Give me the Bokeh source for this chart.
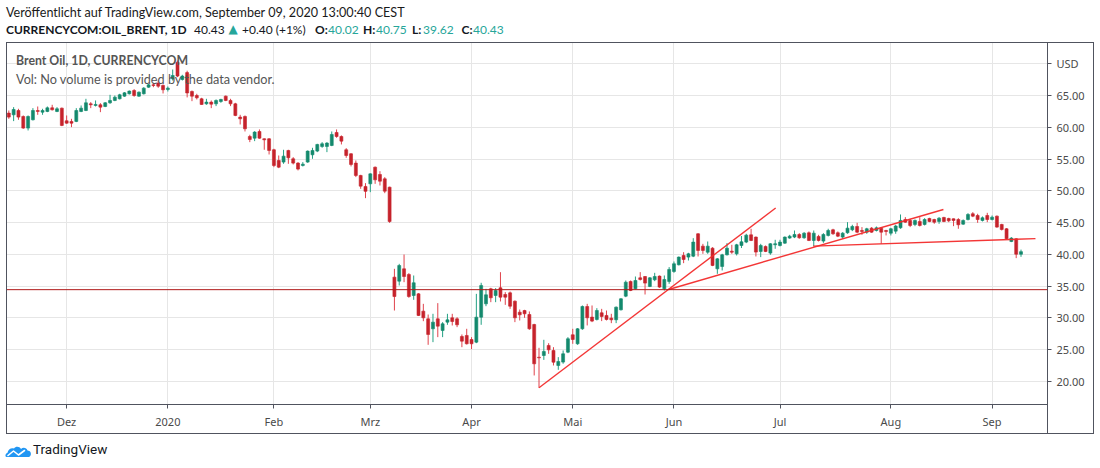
from bokeh.plotting import figure
from bokeh.models import (Range1d, FixedTicker, Label, Span, ColumnDataSource,
                          InlineStyleSheet, PrintfTickFormatter, Div)
from bokeh.layouts import column
from bokeh.embed import file_html
from bokeh.resources import INLINE

# ---------------- data ----------------
opens = [62.23, 61.96, 62.64, 61.70, 59.87, 61.18, 62.64, 62.38, 62.49, 63.06,
         62.49, 63.01, 61.02, 60.92, 60.92, 62.49, 62.64, 63.69, 63.43, 63.54,
         63.27, 63.85, 64.22, 64.48, 64.90, 65.27, 65.79, 64.90, 65.27, 66.31,
         66.68, 66.95, 66.58, 65.95, 67.63, 70.25, 67.52, 68.60, 65.63, 65.00,
         64.48, 63.69, 63.96, 63.69, 64.06, 64.90, 64.22, 63.69, 61.60, 61.70,
         58.55, 58.29, 59.34, 58.19, 58.19, 56.46, 54.78, 54.52, 56.35, 55.04,
         54.36, 53.99, 54.52, 55.67, 56.25, 56.98, 56.98, 57.14, 59.18, 58.55,
         56.46, 55.83, 54.36, 52.42, 50.69, 51.10, 53.72, 52.57, 51.89, 50.58,
         36.42, 35.79, 37.73, 36.84, 33.53, 33.79, 31.07, 29.86, 28.29, 29.86,
         28.03, 29.34, 30.02, 29.86, 27.08, 27.24, 26.61, 26.19, 30.12, 32.22,
         34.58, 33.53, 34.74, 33.69, 33.95, 32.64, 30.91, 31.17, 30.54, 28.97,
         23.82, 24.09, 25.67, 24.88, 22.52, 23.05, 24.62, 27.35, 25.93, 28.29,
         31.80, 30.13, 29.76, 30.81, 30.39, 29.97, 29.71, 31.28, 33.43, 35.74,
         34.58, 36.31, 36.52, 34.95, 36.00, 36.58, 34.58, 35.74, 37.31, 38.36,
         39.83, 39.57, 39.72, 43.24, 41.30, 40.35, 40.98, 37.73, 38.10, 39.93,
         40.51, 40.09, 41.40, 41.93, 43.08, 42.72, 40.46, 41.25, 40.20, 41.51,
         41.40, 41.77, 42.56, 42.72, 43.13, 42.61, 43.40, 42.19, 42.82, 42.09,
         42.98, 43.87, 43.40, 42.72, 43.40, 43.87, 44.39, 43.76, 43.50, 44.13,
         43.76, 44.13, 43.76, 43.34, 43.66, 44.18, 45.49, 45.34, 44.71, 45.18,
         44.71, 45.65, 45.49, 45.18, 45.81, 45.65, 45.60, 45.49, 44.76, 45.49,
         46.39, 46.12, 45.34, 46.12, 45.49, 46.02, 44.71, 44.03, 42.03, 42.45,
         40.02]
highs = [62.64, 63.17, 62.91, 61.86, 61.86, 63.01, 63.27, 62.91, 63.27, 63.54,
         63.17, 63.10, 61.86, 61.33, 63.01, 63.43, 64.48, 63.96, 64.22, 63.80,
         63.96, 65.11, 65.00, 65.27, 65.53, 65.79, 66.00, 65.63, 66.31, 66.84,
         67.00, 67.36, 66.74, 66.42, 69.09, 70.51, 68.26, 68.90, 65.79, 65.27,
         64.64, 64.48, 64.22, 64.38, 64.48, 65.00, 64.48, 63.85, 61.96, 61.86,
         58.82, 59.39, 59.66, 58.25, 58.29, 56.62, 55.56, 56.46, 56.46, 55.30,
         54.52, 54.52, 56.35, 56.77, 57.40, 57.66, 57.66, 59.34, 59.66, 58.72,
         56.72, 55.93, 54.78, 52.52, 51.21, 52.75, 53.83, 53.09, 52.15, 50.65,
         37.73, 38.51, 39.98, 37.05, 36.68, 33.90, 32.22, 30.54, 30.65, 32.33,
         29.34, 30.65, 30.65, 30.12, 27.40, 28.29, 26.98, 33.79, 35.53, 34.58,
         34.74, 34.69, 37.20, 34.06, 34.16, 32.75, 31.33, 31.28, 31.02, 29.08,
         25.30, 26.56, 26.03, 25.40, 23.83, 24.88, 26.98, 28.29, 28.40, 31.96,
         32.22, 31.96, 31.54, 31.43, 31.17, 30.65, 31.80, 33.11, 35.89, 35.89,
         36.52, 37.21, 36.60, 36.42, 37.10, 36.68, 36.68, 38.00, 38.88, 39.67,
         40.35, 40.25, 42.55, 43.34, 41.66, 42.03, 41.14, 39.41, 40.09, 41.77,
         41.51, 41.66, 42.90, 43.24, 44.03, 42.82, 41.66, 41.40, 41.77, 42.30,
         42.30, 42.82, 43.08, 43.76, 43.34, 43.50, 43.61, 43.76, 43.08, 43.34,
         44.03, 44.03, 43.61, 43.50, 45.07, 44.66, 44.97, 44.29, 44.18, 44.29,
         44.39, 44.29, 43.87, 44.18, 44.66, 46.28, 45.86, 45.60, 45.49, 45.86,
         45.70, 45.76, 45.60, 45.86, 45.91, 45.76, 45.65, 45.70, 45.49, 46.49,
         46.65, 46.39, 45.97, 46.54, 46.12, 46.12, 44.81, 44.13, 42.72, 42.56,
         40.75]
lows = [61.33, 60.97, 61.18, 59.76, 59.50, 61.07, 61.96, 61.96, 62.38, 62.64,
        62.38, 60.18, 60.55, 60.02, 60.81, 62.38, 62.54, 63.01, 63.27, 62.38,
        63.17, 63.69, 64.11, 64.38, 64.80, 65.16, 64.80, 64.80, 65.16, 66.21,
        66.31, 66.21, 65.32, 65.63, 67.36, 67.89, 67.36, 64.70, 64.11, 64.38,
        63.54, 63.54, 63.01, 63.33, 63.85, 64.11, 63.33, 61.75, 60.44, 59.34,
        57.66, 57.82, 58.19, 56.46, 55.72, 53.73, 53.57, 54.25, 54.25, 54.15,
        53.21, 53.83, 54.41, 55.04, 56.09, 56.77, 56.09, 57.03, 58.35, 57.30,
        55.20, 53.84, 52.16, 50.32, 48.85, 49.79, 51.10, 50.84, 49.63, 44.96,
        31.17, 35.11, 35.63, 33.17, 32.85, 30.30, 29.49, 25.77, 26.19, 26.98,
        26.98, 28.92, 28.81, 28.55, 25.40, 25.82, 25.09, 26.03, 28.92, 31.85,
        32.48, 32.48, 32.59, 32.06, 31.43, 29.34, 29.60, 30.02, 28.13, 20.95,
        19.01, 23.40, 24.35, 22.52, 21.84, 22.79, 24.46, 25.93, 25.77, 28.13,
        28.82, 29.34, 29.60, 29.50, 29.60, 29.18, 29.18, 31.17, 33.27, 34.22,
        34.48, 35.89, 33.69, 34.85, 35.79, 34.74, 34.32, 35.37, 37.10, 38.26,
        38.62, 39.04, 39.57, 39.67, 40.09, 40.09, 38.15, 36.94, 37.47, 39.83,
        40.09, 39.83, 41.00, 41.77, 42.09, 39.67, 39.57, 40.36, 39.94, 40.88,
        41.25, 41.67, 42.46, 42.56, 42.46, 42.46, 42.09, 41.30, 42.03, 41.82,
        42.82, 43.08, 42.72, 42.46, 43.24, 43.66, 43.34, 43.08, 43.24, 43.40,
        43.61, 41.67, 42.98, 42.98, 43.24, 44.03, 44.97, 44.29, 44.44, 44.39,
        44.55, 45.07, 44.81, 44.81, 45.07, 45.07, 44.44, 44.03, 44.66, 45.34,
        45.86, 44.97, 45.18, 45.07, 45.34, 44.18, 43.76, 42.35, 41.93, 39.41,
        39.62]
closes = [61.60, 62.80, 61.60, 59.87, 61.70, 62.64, 62.49, 62.64, 63.06, 62.75,
          62.91, 60.29, 60.65, 60.65, 62.64, 63.01, 63.85, 63.54, 63.59, 63.17,
          63.85, 64.22, 64.74, 65.11, 65.42, 65.69, 65.00, 65.53, 66.16, 66.68,
          66.58, 66.47, 65.90, 66.16, 68.15, 68.05, 68.05, 65.40, 64.90, 64.64,
          63.59, 63.96, 63.64, 64.22, 64.38, 64.22, 63.69, 61.86, 61.33, 59.76,
          58.08, 59.24, 58.29, 58.03, 56.35, 53.99, 53.73, 55.46, 55.20, 54.36,
          53.42, 54.20, 56.25, 56.35, 57.30, 57.40, 57.51, 58.87, 58.55, 57.82,
          55.56, 54.15, 52.42, 50.74, 49.92, 52.67, 51.73, 51.52, 49.95, 45.17,
          33.37, 38.25, 36.52, 33.37, 35.53, 30.39, 30.02, 27.40, 29.34, 28.71,
          29.08, 29.70, 29.44, 28.92, 26.35, 25.93, 25.93, 30.12, 35.11, 33.64,
          33.17, 34.32, 33.27, 33.27, 31.85, 30.02, 30.49, 30.65, 28.29, 22.78,
          23.72, 24.72, 24.98, 23.04, 23.15, 24.36, 26.72, 26.61, 28.29, 31.80,
          30.02, 29.50, 31.17, 30.23, 29.76, 29.71, 31.70, 33.01, 35.63, 34.32,
          35.89, 36.05, 35.48, 36.31, 36.52, 34.85, 36.05, 37.63, 38.52, 39.57,
          39.20, 40.09, 41.93, 40.62, 40.62, 41.30, 38.26, 39.30, 39.93, 40.98,
          40.35, 41.51, 41.98, 43.03, 42.19, 40.36, 41.40, 40.46, 41.67, 41.67,
          41.93, 42.72, 42.87, 43.13, 42.61, 43.34, 42.19, 43.34, 42.19, 43.13,
          43.76, 43.24, 42.87, 43.34, 44.13, 44.39, 43.50, 43.61, 44.03, 43.50,
          44.18, 43.50, 43.61, 44.03, 44.47, 45.34, 45.07, 44.55, 45.34, 44.55,
          45.49, 45.18, 45.07, 45.70, 45.18, 45.28, 45.34, 44.66, 45.34, 46.28,
          46.02, 45.49, 45.76, 45.49, 45.86, 44.29, 43.92, 42.45, 42.56, 40.03,
          40.43]

month_ticks = [12, 33, 55, 75, 96, 117, 138, 160, 183, 204]
month_labels = ["Dez", "2020", "Feb", "Mrz", "Apr", "Mai", "Jun", "Jul", "Aug", "Sep"]
price_ticks = [20, 25, 30, 35, 40, 45, 50, 55, 60, 65, 70]
currency = "USD"

# drawn trend lines (bar index, price)
trend_x0 = [110.0, 136.9, 166.9]
trend_y0 = [19.01, 34.48, 41.30]
trend_x1 = [159.1, 193.9, 213.0]
trend_y1 = [47.30, 47.06, 42.48]
hline_price = 34.45

symbol = "CURRENCYCOM:OIL_BRENT, 1D"
last_price, change, change_pct = 40.43, 0.40, 1
ohlc_last = {"O": 40.02, "H": 40.75, "L": 39.62, "C": 40.43}

# ---------------- layout constants ----------------
FL = 6            # frame left (page px)
FT = 42           # frame top (page px)
FW, FH = 1041, 362
X_START = -0.48
X_END = X_START + FW / 4.82
Y_START, Y_END = 16.38, 73.34


def X(px):
    return X_START + (px - FL) * (X_END - X_START) / FW


def Y(py):
    return Y_END - (py - FT) * (Y_END - Y_START) / FH


UP_BODY, DN_BODY = "#14896d", "#c6232c"
UP_WICK, DN_WICK = "#22a083", "#e0434c"
TEAL = "#26a69a"
AXC = "#50535e"
TXT = "#4a4a4a"
TF = "Lato"

idx = list(range(len(opens)))
up = [c >= o for o, c in zip(opens, closes)]
src = ColumnDataSource(dict(
    x=idx,
    high=highs, low=lows,
    top=[max(o, c) for o, c in zip(opens, closes)],
    bottom=[min(o, c) for o, c in zip(opens, closes)],
    body=[UP_BODY if u else DN_BODY for u in up],
    wick=[UP_WICK if u else DN_WICK for u in up],
))

p = figure(frame_width=FW, frame_height=FH, output_backend="svg", toolbar_location=None,
           x_range=Range1d(X_START, X_END), y_range=Range1d(Y_START, Y_END),
           y_axis_location="right",
           min_border_left=FL, min_border_top=0, min_border_bottom=32, min_border_right=47)
p.background_fill_color = "white"
p.border_fill_color = "white"
p.outline_line_color = AXC
p.outline_line_alpha = 1.0

p.xaxis.ticker = FixedTicker(ticks=month_ticks)
p.xaxis.major_label_overrides = dict(zip(month_ticks, month_labels))
p.yaxis.ticker = FixedTicker(ticks=price_ticks)
p.yaxis.formatter = PrintfTickFormatter(format="%.2f")
p.yaxis.major_label_overrides = {70: currency}
for ax in (p.xaxis[0], p.yaxis[0]):
    ax.axis_line_color = AXC
    ax.major_tick_line_color = AXC
    ax.major_tick_in = 0
    ax.major_tick_out = 4
    ax.minor_tick_line_color = None
    ax.major_label_text_font = "Noto Sans"
    ax.major_label_text_font_size = "11px"
    ax.major_label_text_color = TXT
p.xaxis.major_label_standoff = 5
p.yaxis.major_label_standoff = 5

p.xgrid.ticker = FixedTicker(ticks=month_ticks)
p.ygrid.ticker = FixedTicker(ticks=price_ticks)
p.xgrid.grid_line_color = "#e6e6e6"
p.ygrid.grid_line_color = "#e6e6e6"

# candles
p.segment(x0="x", y0="low", x1="x", y1="high", line_color="wick", line_width=1, source=src)
p.vbar(x="x", width=0.62, top="top", bottom="bottom", fill_color="body",
       line_color="body", line_width=0.6, source=src)

# drawings
p.add_layout(Span(location=hline_price, dimension="width", line_color="#b01818", line_width=1))
p.segment(x0=trend_x0, y0=trend_y0, x1=trend_x1, y1=trend_y1,
          line_color="#f22b2b", line_width=1.4, line_alpha=0.95)

# legend texts inside the pane
p.add_layout(Label(x=X(15.5), y=Y(60), text="Brent Oil, 1D, CURRENCYCOM", text_font=TF,
                   text_font_size="12.3px", text_font_style="bold", text_color="#555555",
                   text_baseline="middle"))
p.add_layout(Label(x=X(15.5), y=Y(78), text="Vol: No volume is provided by the data vendor.",
                   text_font=TF, text_font_size="12.7px", text_color="#555555",
                   text_baseline="middle"))

# outer frame, price-axis separator under the time axis, and currency badge box
css = InlineStyleSheet(css="""
:host::after { content: ""; position: absolute; left: 6px; top: 0px; width: 1088px; height: 392px;
  border: 1px solid #50535e; box-sizing: border-box; pointer-events: none;
  background: linear-gradient(#50535e, #50535e) no-repeat; background-size: 1px 30px;
  background-position: 1040px 361px; }
:host::before { content: ""; position: absolute; left: 1052px; top: 12px; width: 28px; height: 18px;
  border: 1px solid #c8cbd3; border-radius: 3px; box-sizing: border-box; pointer-events: none; }
""")
p.stylesheets.append(css)

# ---------------- header & footer ----------------
def seg(left, text, top=21.5, color="#131722", bold=False, size="12px", font="Lato"):
    w = "bold" if bold else "normal"
    return (f'<span style="position:absolute;left:{left}px;top:{top}px;font-size:{size};'
            f'font-family:{font};line-height:16px;white-space:nowrap;font-weight:{w};'
            f'color:{color};">{text}</span>')


parts = [seg(6, "Veröffentlicht auf TradingView.com, September 09, 2020 13:00:40 CEST",
             top=5, color="#1a1a1a", size="12.6px"),
         seg(6, symbol, bold=True),
         seg(194, f"{last_price:.2f}"),
         seg(228.5, "▲", color=TEAL, size="12px", font="DejaVu Sans", top=21),
         seg(242, f"+{change:.2f} (+{change_pct}%)")]
pos = [(315, 328), (363, 376), (412, 423), (461.5, 473)]
for (kx, vx), (k, v) in zip(pos, ohlc_last.items()):
    parts.append(seg(kx, k + ":", bold=True))
    parts.append(seg(vx, f"{v:.2f}", color=TEAL))

header = Div(text='<div style="position:relative;width:1094px;height:42px;">'
                  + "".join(parts) + "</div>",
             width=1094, height=42, margin=0)

logo_svg = ('<svg width="27" height="14" viewBox="0 0 27 14" style="position:absolute;left:5px;top:8px;">'
            '<path d="M1.5,13 C0,13 0,9.5 2.5,8.8 C3,5.5 6,3.5 9,4.5 C10.5,2 14.5,2 16,5 '
            'C18,3 21.5,3.5 22.5,6.5 C25.5,6.5 26.5,9.5 25.5,11.5 C25,12.6 24,13 23,13 Z" fill="#2196f3"/>'
            '<polyline points="3,11.5 8.5,7 13.5,11 19.5,6.5" fill="none" stroke="white" stroke-width="1.6" '
            'stroke-linejoin="round" stroke-linecap="round"/></svg>')
footer = Div(text=f'<div style="position:relative;width:300px;height:30px;">{logo_svg}'
                  '<span style="position:absolute;left:33px;top:5px;font-family:Roboto;font-size:13.5px;'
                  'line-height:16px;color:#131722;white-space:nowrap;">TradingView</span></div>',
             width=300, height=30, margin=0)

layout = column(header, p, footer, spacing=0)
open("out.html", "w").write(file_html(layout, INLINE))
